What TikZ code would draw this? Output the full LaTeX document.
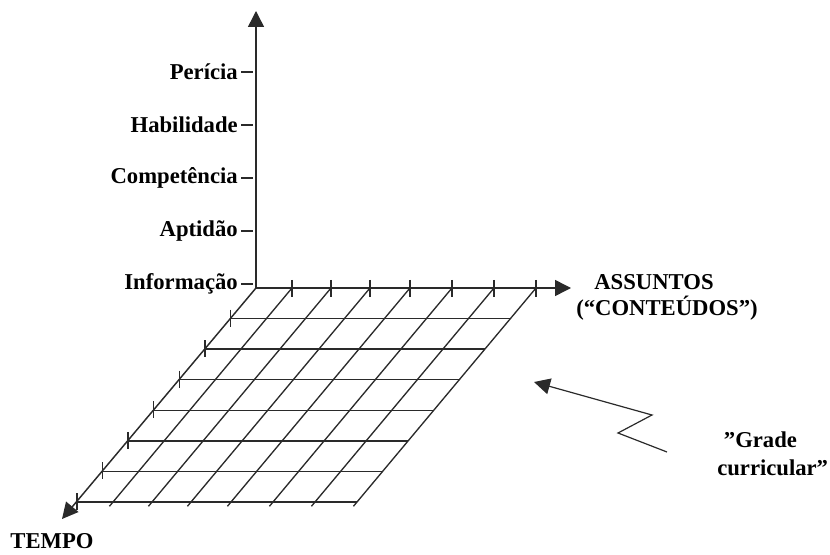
\documentclass[tikz,border=0pt]{standalone}
\usepackage{fontspec}
\setmainfont{Liberation Serif}
\usepackage{tikz}
\usetikzlibrary{arrows.meta,calc}
\definecolor{ink}{HTML}{2A2A2A}
\tikzset{
  lbl/.style={font=\fontsize{17}{20}\selectfont\bfseries, inner sep=0pt, text=black},
  gridline/.style={ink, line width=1pt},
  axis/.style={ink, line width=1.1pt, ->}
}

\begin{document}
\begin{tikzpicture}[x=0.75pt, y=-0.75pt, >={Triangle[length=12pt,width=12pt]}]
        \useasboundingbox (0,0) rectangle (830,555);
        % axes
        \coordinate (O) at (256,288);
        \coordinate (Y) at (256,11);
        \coordinate (X) at (571,288);
        \coordinate (Z) at (62,519);
        % grid corners along the two axes
        \coordinate (t0) at (O);
        \coordinate (b0) at (77,502);
        \foreach \x [count=\i] in {292,331,370,410,452,494,536} {
          \coordinate (t\i) at (\x,288);
          \coordinate (b\i) at (\x-179,502);
        }
        % diagonals
        \foreach \i in {1,...,7}
          \draw[gridline] (t\i) -- ($(t\i)!1.02!(b\i)$);
        % rows
        \foreach \j in {1,...,7} {
          \draw[gridline] ($(t0)!\j/7!(b0)$) -- ($(t7)!\j/7!(b7)$);
          \draw[gridline] ($(t0)!\j/7!(b0)+(0,-9)$) -- ++(0,17);
        }
        \foreach \i in {1,...,7}
          \draw[gridline] ($(t\i)+(0,-8)$) -- ++(0,17);
        \draw[axis] (O) -- (Y);
        \draw[axis] (O) -- (X);
        \draw[axis] (O) -- (Z);
        % levels on the vertical axis
        \foreach \txt [count=\k] in {Perícia,Habilidade,Competência,Aptidão,Informação} {
          \node[lbl, anchor=east] (lv\k) at (238,19+53*\k) {\txt};
          \draw[ink, line width=0.9pt] ($(lv\k.east)+(3,0)$) -- ++(12,0);
        }
        \node[lbl] (ass) at (654,282) {ASSUNTOS};
        \node[lbl] (cont) at (667,308) {(“CONTEÚDOS”)};
        \node[lbl] (tempo) at (52,541) {TEMPO};
        \node[lbl, align=left, anchor=west, font=\fontsize{17}{21}\selectfont\bfseries] (grade) at (717,454) {\hspace*{5pt}”Grade\\curricular”};
        % pointer to the grid
        \coordinate (g0) at (667,452);
        \coordinate (g1) at (618,433);
        \coordinate (g2) at (652,415);
        \coordinate (g3) at (534,382);
        \draw[ink, line width=0.9pt, ->] (g0) -- (g1) -- (g2) -- (g3);
      \end{tikzpicture}
\end{document}
